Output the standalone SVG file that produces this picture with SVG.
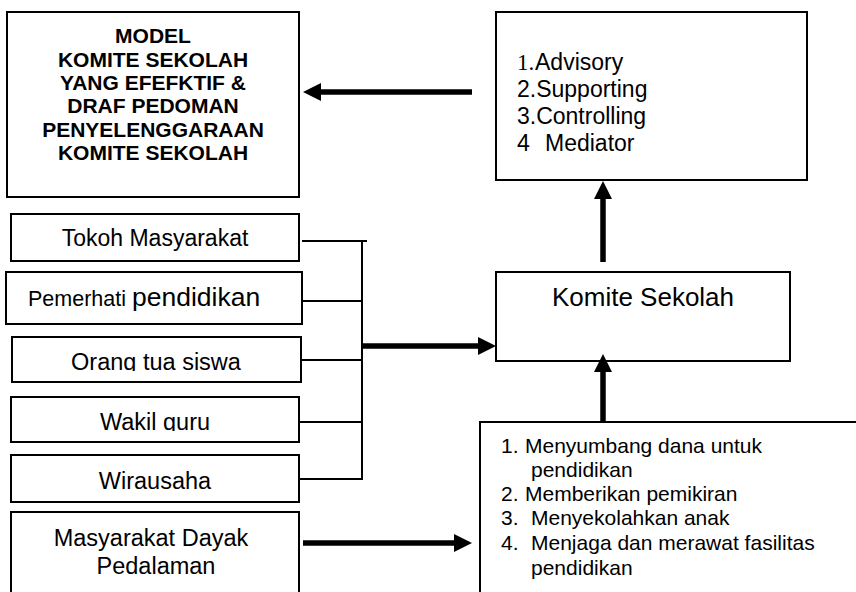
<svg xmlns="http://www.w3.org/2000/svg" width="856" height="592" viewBox="0 0 856 592">
<style>
  .box { fill: #ffffff; stroke: #000000; stroke-width: 2; }
  .t { font-family: "Liberation Sans", Arial, sans-serif; fill: #000000; }
  .tb { font-family: "Liberation Sans", Arial, sans-serif; font-weight: bold; font-size: 21px; fill: #000000; text-anchor: middle; }
  .ts { font-family: "Liberation Serif", "Times New Roman", serif; fill: #000000; }
  .thin { stroke: #000000; stroke-width: 2; fill: none; }
  .thick { stroke: #000000; stroke-width: 5.5; fill: none; marker-end: url(#ah); }
</style>
<defs>
  <marker id="ah" markerUnits="userSpaceOnUse" markerWidth="19" markerHeight="19" refX="0" refY="9" orient="auto">
    <path d="M0,0 L18,9 L0,18 z" fill="#000000"/>
  </marker>
  <clipPath id="clipOrang"><rect x="0" y="330" width="320" height="41"/></clipPath>
  <clipPath id="clipWakil"><rect x="0" y="390" width="320" height="41"/></clipPath>
</defs>
<rect width="856" height="592" fill="#ffffff"/>

<g id="model">
  <rect class="box" x="7" y="12" width="292" height="185"/>
  <text class="tb" x="153" y="43">MODEL</text>
  <text class="tb" x="153" y="67">KOMITE SEKOLAH</text>
  <text class="tb" x="153" y="90">YANG EFEFKTIF &amp;</text>
  <text class="tb" x="153" y="113">DRAF PEDOMAN</text>
  <text class="tb" x="153" y="137">PENYELENGGARAAN</text>
  <text class="tb" x="153" y="160">KOMITE SEKOLAH</text>
</g>

<g id="fungsi">
  <rect class="box" x="496" y="12" width="311" height="168"/>
  <text class="ts" x="517" y="70" font-size="23">1.</text>
  <text class="t" x="535" y="70" font-size="23">Advisory</text>
  <text class="t" x="517" y="97" font-size="23">2.Supporting</text>
  <text class="t" x="517" y="124" font-size="23">3.Controlling</text>
  <text class="t" x="517" y="151" font-size="23">4</text>
  <text class="t" x="545" y="151" font-size="23">Mediator</text>
</g>

<g id="komite">
  <rect class="box" x="496" y="272" width="294" height="89"/>
  <text class="t" x="643" y="306" font-size="26" text-anchor="middle">Komite Sekolah</text>
</g>

<g id="tokoh">
  <rect class="box" x="11" y="214" width="288" height="47"/>
  <text class="t" x="155" y="246" font-size="23" text-anchor="middle">Tokoh Masyarakat</text>
</g>

<g id="pemerhati">
  <rect class="box" x="6" y="272" width="296" height="52"/>
  <text class="t" x="28" y="306" font-size="21.5">Pemerhati <tspan font-size="26.5">pendidikan</tspan></text>
</g>

<g id="orangtua">
  <rect class="box" x="12" y="337" width="289" height="45"/>
  <text class="t" x="156" y="370" font-size="23.5" text-anchor="middle" clip-path="url(#clipOrang)">Orang tua siswa</text>
</g>

<g id="wakilguru">
  <rect class="box" x="11" y="397" width="288" height="45"/>
  <text class="t" x="155" y="430" font-size="23.5" text-anchor="middle" clip-path="url(#clipWakil)">Wakil guru</text>
</g>

<g id="wirausaha">
  <rect class="box" x="11" y="455" width="288" height="47"/>
  <text class="t" x="155" y="489" font-size="23.5" text-anchor="middle">Wirausaha</text>
</g>

<g id="dayak">
  <rect class="box" x="11" y="512" width="288" height="100"/>
  <text class="t" x="151" y="546" font-size="23.5" text-anchor="middle">Masyarakat Dayak</text>
  <text class="t" x="156" y="574" font-size="23.5" text-anchor="middle">Pedalaman</text>
</g>

<g id="peran">
  <rect class="box" x="480" y="422" width="400" height="200"/>
  <text class="t" x="501" y="453" font-size="21">1.</text>
  <text class="t" x="525" y="453" font-size="21">Menyumbang dana untuk</text>
  <text class="t" x="531" y="477" font-size="21">pendidikan</text>
  <text class="t" x="501" y="501" font-size="21">2.</text>
  <text class="t" x="525" y="501" font-size="21">Memberikan pemikiran</text>
  <text class="t" x="501" y="525" font-size="21">3.</text>
  <text class="t" x="531" y="525" font-size="21">Menyekolahkan anak</text>
  <text class="t" x="501" y="550" font-size="21">4.</text>
  <text class="t" x="531" y="550" font-size="21">Menjaga dan merawat fasilitas</text>
  <text class="t" x="531" y="575" font-size="21">pendidikan</text>
</g>

<g id="connectors">
  <path class="thin" d="M302,241 H367"/>
  <path class="thin" d="M302,301 H362"/>
  <path class="thin" d="M301,360 H362"/>
  <path class="thin" d="M299,422 H362"/>
  <path class="thin" d="M299,479 H362"/>
  <path class="thin" d="M362,240 V480"/>
  <path class="thick" d="M362,346 H478"/>
  <path class="thick" d="M472,92 H321"/>
  <path class="thick" d="M603,262 V199"/>
  <path class="thick" d="M603,422 V372"/>
  <path class="thick" d="M303,543 H454"/>
</g>
</svg>
